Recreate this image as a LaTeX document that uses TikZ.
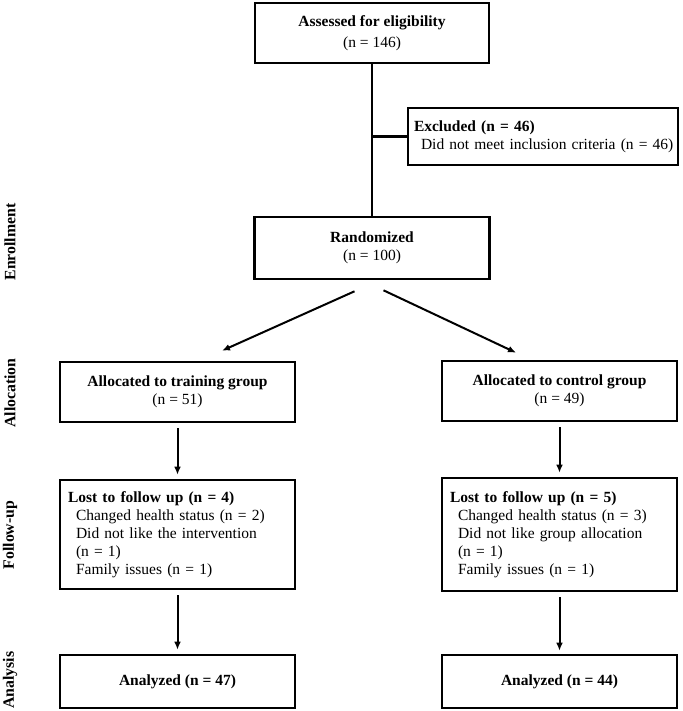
\documentclass[tikz,border=0pt]{standalone}
\usepackage{fontspec}
\setmainfont{Liberation Serif}
\usetikzlibrary{arrows.meta}
\tikzset{
  box/.style={draw, line width=1.3pt, minimum width=117.5pt, align=center, inner sep=0pt},
  listbox/.style={draw, line width=1.3pt, align=left, inner xsep=4pt, inner ysep=0pt},
  conn/.style={line width=1.1pt},
  arr/.style={line width=1pt, -{Latex[length=4pt,width=3.4pt]}},
  phase/.style={rotate=90, font=\fontsize{7.9}{9}\selectfont\bfseries}
}
\begin{document}
\begin{tikzpicture}[x=0.5pt,y=-0.5pt, font=\fontsize{7.75}{9}\selectfont]
  \useasboundingbox (0,0) rectangle (682,711);
  % phase labels
  \node[phase] (enrol) at (10,242) {Enrollment};
  \node[phase] (alloc) at (10,393) {Allocation};
  \node[phase] (follow) at (10,535) {Follow-up};
  \node[phase] (anal) at (10,680) {Analysis};
  % enrollment
  \node[box, minimum width=117pt, minimum height=30pt] (assess) at (372,33)
    {\textbf{Assessed for eligibility}\\[1.5pt](n = 146)};
  \node[listbox, inner xsep=3pt, text width=129pt, minimum height=28.5pt] (excl) at (543,136.5)
    {\textbf{Excluded (n = 46)}\\\mbox{\hspace*{3.5pt}Did not meet inclusion criteria (n = 46)}};
  \node[box, minimum height=31pt] (rand) at (372,248)
    {\textbf{Randomized}\\(n = 100)};
  % allocation
  \node[box, minimum height=30pt] (train) at (177.5,392)
    {\textbf{Allocated to training group}\\(n = 51)};
  \node[box, minimum height=30pt] (ctrl) at (559.5,391)
    {\textbf{Allocated to control group}\\(n = 49)};
  % follow-up
  \node[listbox, text width=109.5pt, minimum height=54.5pt] (lostA) at (177.5,534.5)
    {\textbf{Lost to follow up (n = 4)}\\
     \hspace*{4pt}Changed health status (n = 2)\\
     \hspace*{4pt}Did not like the intervention\\
     \hspace*{4pt}(n = 1)\\
     \hspace*{4pt}Family issues (n = 1)};
  \node[listbox, text width=109.5pt, minimum height=56.5pt] (lostB) at (559.5,534.5)
    {\textbf{Lost to follow up (n = 5)}\\
     \hspace*{4pt}Changed health status (n = 3)\\
     \hspace*{4pt}Did not like group allocation\\
     \hspace*{4pt}(n = 1)\\
     \hspace*{4pt}Family issues (n = 1)};
  % analysis
  \node[box, minimum height=26.5pt] (anA) at (177.5,681.5) {\textbf{Analyzed (n = 47)}};
  \node[box, minimum height=26.5pt] (anB) at (559.5,681.5) {\textbf{Analyzed (n = 44)}};

  % connectors
  \draw[conn] (assess.south) -- (rand.north);
  \draw[conn] (assess.south |- excl.west) -- (excl.west);
  \draw[arr] ([xshift=-8.75pt,yshift=-5.5pt]rand.south) -- ([xshift=22.25pt,yshift=5pt]train.north);
  \draw[arr] ([xshift=5.75pt,yshift=-5pt]rand.south) -- ([xshift=-21.75pt,yshift=3.5pt]ctrl.north);
  \draw[arr, shorten <=2.5pt, shorten >=2pt] (train.south) -- (lostA.north);
  \draw[arr, shorten <=2.5pt, shorten >=2pt] (ctrl.south) -- (lostB.north);
  \draw[arr, shorten <=2.5pt, shorten >=2pt] (lostA.south) -- (anA.north);
  \draw[arr, shorten <=2.5pt, shorten >=1.5pt] (lostB.south) -- (anB.north);
\end{tikzpicture}
\end{document}
